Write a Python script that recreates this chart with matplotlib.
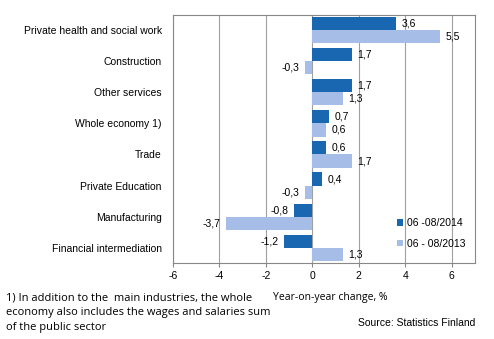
import numpy as np
import matplotlib.pyplot as plt

categories = ["Private health and social work", "Construction", "Other services",
              "Whole economy 1)", "Trade", "Private Education", "Manufacturing",
              "Financial intermediation"]
y2014 = [3.6, 1.7, 1.7, 0.7, 0.6, 0.4, -0.8, -1.2]
y2013 = [5.5, -0.3, 1.3, 0.6, 1.7, -0.3, -3.7, 1.3]
xticks = [-6, -4, -2, 0, 2, 4, 6]

c2014 = "#1a67b1"
c2013 = "#a6bde8"

plt.rcParams['font.family'] = ['Liberation Sans', 'DejaVu Sans']

fig = plt.figure(figsize=(4.94, 3.39), dpi=100)
ax = fig.add_axes([0.350, 0.224, 0.6115, 0.732])

pos = np.arange(len(categories))
h = 0.42
ax.barh(pos - h / 2, y2014, height=h, color=c2014, label="06 -08/2014", zorder=3)
ax.barh(pos + h / 2, y2013, height=h, color=c2013, label="06 - 08/2013", zorder=3)

for p, v in zip(pos - h / 2, y2014):
    ax.annotate(f"{v:.1f}".replace(".", ","), (v, p), xytext=(4 if v >= 0 else -4, 0),
                textcoords="offset points", ha="left" if v >= 0 else "right",
                va="center", fontsize=7.5)
for p, v in zip(pos + h / 2, y2013):
    ax.annotate(f"{v:.1f}".replace(".", ","), (v, p), xytext=(4 if v >= 0 else -4, 0),
                textcoords="offset points", ha="left" if v >= 0 else "right",
                va="center", fontsize=7.5)

ax.set_xlim(-6, 7)
ax.set_ylim(len(categories) - 0.5, -0.5)
ax.set_xticks(xticks)
ax.set_xticklabels([str(t) for t in xticks], fontsize=7.5)
ax.set_yticks(pos)
ax.set_yticklabels(categories, fontsize=7.5)
ax.tick_params(axis="y", length=0, pad=8)
ax.tick_params(axis="x", length=3, color="#888888", pad=3)
ax.grid(axis="x", color="#a0a0a0", linewidth=0.8, zorder=0)
for s in ax.spines.values():
    s.set_color("#888888")
    s.set_linewidth(0.8)

ax.legend(loc="lower right", frameon=False, fontsize=7.5, handlelength=0.6,
          handleheight=0.6, handletextpad=0.4, labelspacing=1.0,
          bbox_to_anchor=(1.0, 0.02))

foot = "1) In addition to the  main industries, the whole\neconomy also includes the wages and salaries sum\nof the public sector"
fig.text(0.012, 0.138, foot, fontsize=8, family=["Open Sans", "DejaVu Sans"],
         va="top", ha="left", linespacing=1.5)
fig.text(0.553, 0.138, "Year-on-year change, %", fontsize=7.5,
         family=["Open Sans", "DejaVu Sans"], va="top", ha="left")
fig.text(0.962, 0.062, "Source: Statistics Finland", fontsize=7.5, va="top", ha="right")

fig.savefig("out.png", dpi=100)
